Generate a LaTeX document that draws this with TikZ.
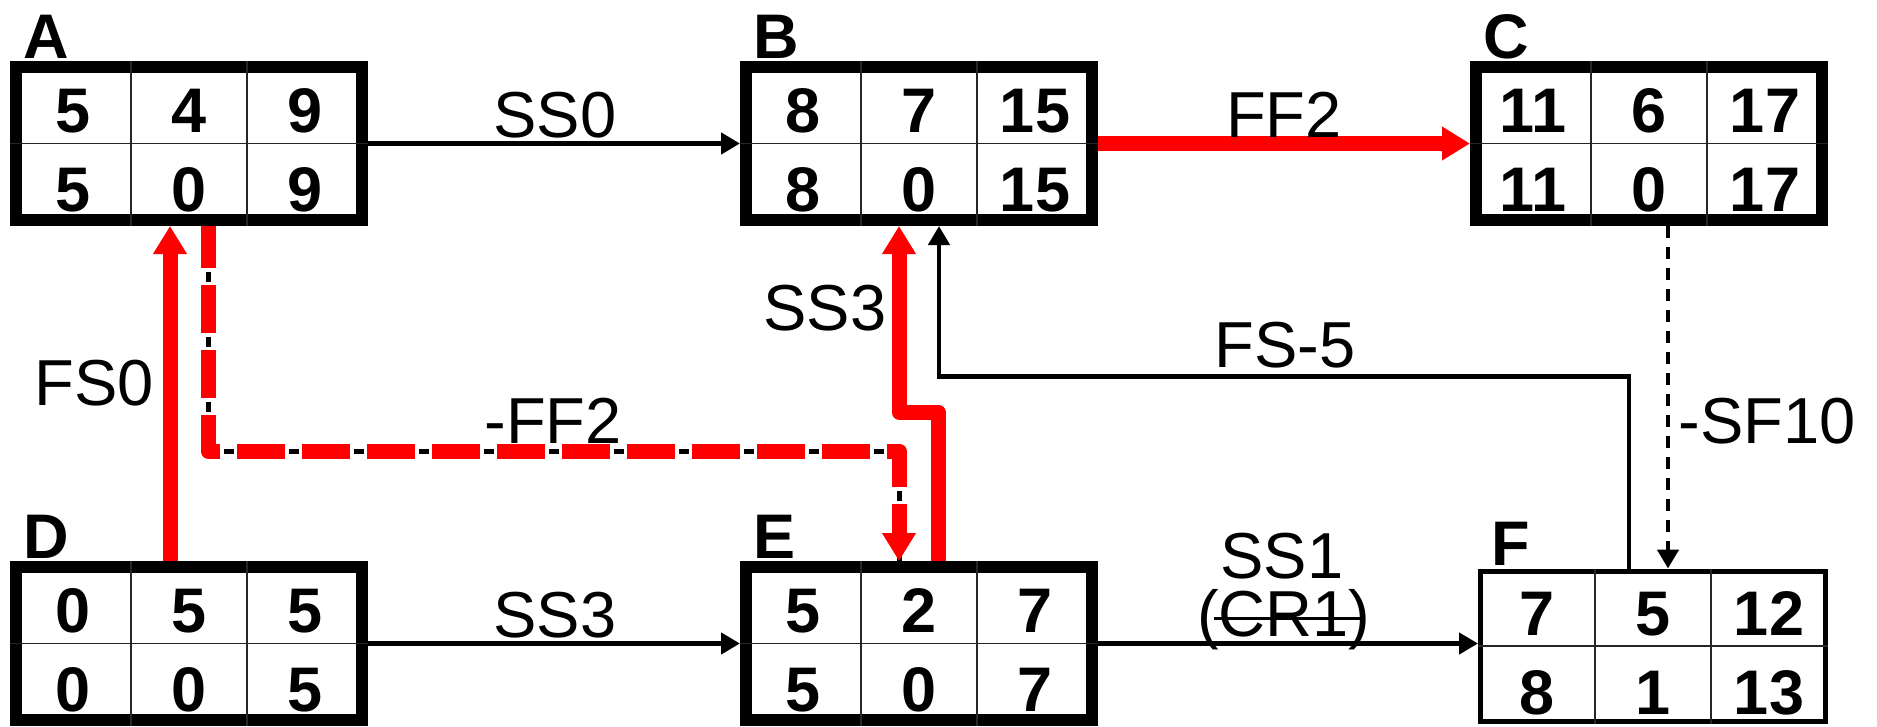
\documentclass[tikz,border=0pt]{standalone}
\usepackage{fontspec}
\setmainfont{Liberation Sans}
\usetikzlibrary{arrows.meta}

\tikzset{
  thickbox/.style={draw, line width=12pt, minimum width=346pt, minimum height=153pt, inner sep=0pt},
  thinbox/.style={draw, line width=5pt, minimum width=345pt, minimum height=150pt, inner sep=0pt},
  cellline/.style={draw=black!85, line width=1.5pt},
  num/.style={font=\fontsize{63}{70}\selectfont\bfseries, anchor=base, inner sep=0pt},
  boxlbl/.style={font=\fontsize{63}{70}\selectfont\bfseries, anchor=base west, inner sep=0pt},
  lag/.style={font=\fontsize{65}{72}\selectfont, anchor=base, inner sep=0pt},
  link/.style={line width=4.5pt, -{Triangle[length=19pt,width=21pt]}},
  crit/.style={red, line width=15pt, line join=round, -{Triangle[length=28pt,width=32pt]}},
}

% box: [style] name, centre, ES D EF / LS TF LF
\newcommand{\taskbox}[9][thickbox]{
  \node[#1] (#2) at (#3) {};
  \node[boxlbl] (#2lbl) at ([xshift=13pt,yshift=3pt]#2.north west) {#2};
  \draw[cellline] ([xshift=-58pt]#2.north) -- ([xshift=-58pt]#2.south);
  \draw[cellline] ([xshift=58pt]#2.north) -- ([xshift=58pt]#2.south);
  \draw[cellline] (#2.west) -- (#2.east);
  \node[num] (#2es) at ([xshift=-116pt,yshift=11pt]#2.center) {#4};
  \node[num] (#2du) at ([yshift=11pt]#2.center) {#5};
  \node[num] (#2ef) at ([xshift=116pt,yshift=11pt]#2.center) {#6};
  \node[num] (#2ls) at ([xshift=-116pt,yshift=-68pt]#2.center) {#7};
  \node[num] (#2tf) at ([yshift=-68pt]#2.center) {#8};
  \node[num] (#2lf) at ([xshift=116pt,yshift=-68pt]#2.center) {#9};
}

\begin{document}
\begin{tikzpicture}[x=1pt,y=-1pt]
  \useasboundingbox (0,0) rectangle (1877,726);

  % activities
  \taskbox{A}{189,143.5}{5}{4}{9}{5}{0}{9}
  \taskbox{B}{919,143.5}{8}{7}{15}{8}{0}{15}
  \taskbox{C}{1649,143.5}{11}{6}{17}{11}{0}{17}
  \taskbox{D}{189,643.5}{0}{5}{5}{0}{0}{5}
  \taskbox{E}{919,643.5}{5}{2}{7}{5}{0}{7}
  \taskbox[thinbox]{F}{1653,646}{7}{5}{12}{8}{1}{13}

  % plain links
  \draw[link] (A) -- (B);
  \draw[link] (D) -- (E);
  \draw[link] (E.east) -- (E.east -| F.west);
  \draw[link] ([xshift=-24pt]F.north) -- ++(0,-192) -| ([xshift=20pt]B.south);
  \draw[link, dash pattern=on 12pt off 9pt] ([xshift=19pt]C.south) -- ([xshift=19pt]C.south |- F.north);

  % critical links
  \draw[crit] (B) -- (C);
  \draw[crit] ([xshift=-19pt]D.north) -- ([xshift=-19pt]A.south);
  \draw[crit] ([xshift=19pt]E.north) -- ++(0,-149) -| ([xshift=-20pt]B.south);
  \draw[black, line width=5pt, dash pattern=on 10pt off 55pt, dash phase=19.5pt]
    ([xshift=19pt]A.south) -- ++(0,225) -| ([xshift=-20pt]E.north);
  \draw[crit, dash pattern=on 48pt off 17pt, dash phase=6pt]
    ([xshift=19pt]A.south) -- ++(0,225) -| ([xshift=-20pt]E.north);

  % lags
  \begin{scope}[every node/.style={lag}]
    \node (ss0) at (555,137) {SS0};
    \node (ff2) at (1284,137) {FF2};
    \node (fs0) at (94,405) {FS0};
    \node (ss3b) at (825,330) {SS3};
    \node (mff2) at (553,443) {-FF2};
    \node (fsm5) at (1285,367) {FS-5};
    \node (msf10) at (1767,443) {-SF10};
    \node (ss3e) at (555,637) {SS3};
    \node (ss1) at (1282,578) {SS1};
    \node (cr) at (1284,636) {(CR1)};
  \end{scope}
  \draw[line width=3pt] ([xshift=17pt,yshift=18pt]cr.base west) -- ([xshift=-11pt,yshift=18pt]cr.base east);

\end{tikzpicture}
\end{document}
